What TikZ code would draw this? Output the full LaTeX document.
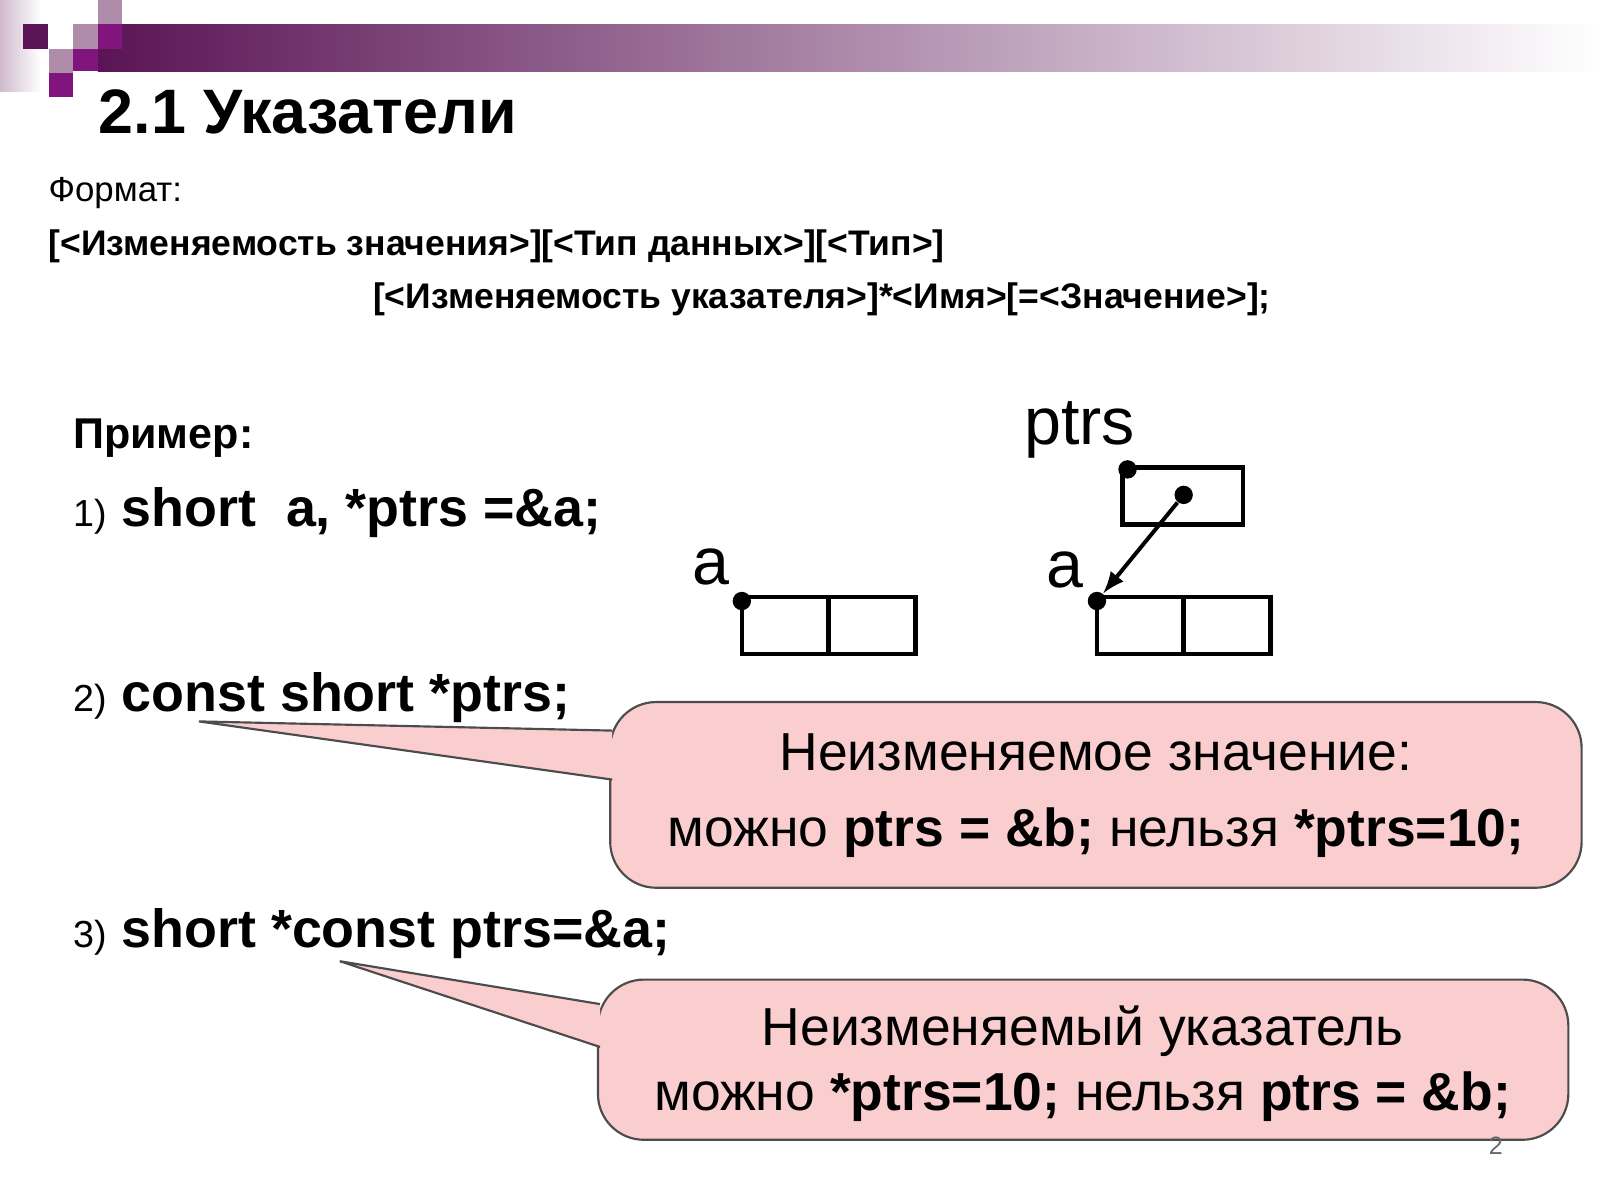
\documentclass[tikz,border=0pt]{standalone}
\usepackage{fontspec}
\setmainfont{Liberation Sans}
\usetikzlibrary{positioning}
\definecolor{plum}{RGB}{90,20,85}
\definecolor{plummid}{RGB}{130,20,125}
\definecolor{plumlight}{RGB}{175,140,170}
\definecolor{calloutfill}{RGB}{250,206,206}
\tikzset{
    sq/.style={fill=#1,draw=none},
    cell/.style={draw,line width=1.3pt,minimum width=0.85cm,minimum height=0.56cm,inner sep=0pt,outer sep=0pt},
    dot/.style={circle,fill,inner sep=0pt,minimum size=0.18cm},
    code/.style={anchor=base west,inner sep=0pt,font=\fontsize{15}{18}\selectfont},
    bubble/.style={fill=calloutfill,draw=black!70,line width=0.6pt,rounded corners=0.45cm},
    btext/.style={anchor=base,inner sep=0pt,font=\fontsize{14.9}{18}\selectfont}
}
\begin{document}
\begin{tikzpicture}[x=0.01cm,y=-0.01cm]
\useasboundingbox (0,0) rectangle (1568,1176);
% header decoration
\shade[left color=plum,right color=white] (96,24) rectangle (1568,70);
\shade[left color=plumlight!60,right color=white] (0,0) rectangle (40,90);
\fill[sq=plum] (23,24) rectangle (47,48);
\fill[sq=plumlight] (48,48) rectangle (72,72);
\fill[sq=plummid] (48,72) rectangle (72,95);
\fill[sq=plumlight] (72,24) rectangle (96,48);
\fill[sq=plummid] (72,48) rectangle (96,70);
\fill[sq=plumlight] (96,0) rectangle (120,24);
\fill[sq=plummid] (96,24) rectangle (120,48);
% title and format
\node[anchor=base west,inner sep=0pt,font=\fontsize{17.5}{20}\selectfont\bfseries] (title) at (96,131) {2.1 Указатели};
\node[anchor=base west,inner sep=0pt,font=\fontsize{9.7}{10}\selectfont] (fmt) at (47,197) {Формат:};
\node[anchor=base west,inner sep=0pt,font=\fontsize{9.9}{10}\selectfont\bfseries] (fmt1) at (47,250) {[<Изменяемость значения>][<Тип данных>][<Тип>]};
\node[anchor=base west,inner sep=0pt,font=\fontsize{9.9}{10}\selectfont\bfseries] (fmt2) at (365,302) {[<Изменяемость указателя>]*<Имя>[=<Значение>];};
% examples
\node[anchor=base west,inner sep=0pt,font=\fontsize{12}{14}\selectfont\bfseries] (ex) at (71,440) {Пример:};
\node[code] (l1) at (71,516) {{\fontsize{10.5}{12}\selectfont 1)} \textbf{short\ \ a, *ptrs =\&a;}};
\node[code] (l2) at (71,697) {{\fontsize{10.5}{12}\selectfont 2)} \textbf{const short *ptrs;}};
\node[code] (l3) at (71,929) {{\fontsize{10.5}{12}\selectfont 3)} \textbf{short *const ptrs=\&a;}};
% memory pictures
\node[cell,anchor=north west] (a1) at (727,585) {};
\node[cell,right=0pt of a1] (a2) {};
\node[cell,anchor=north west] (b1) at (1075,585) {};
\node[cell,right=0pt of b1] (b2) {};
\node[cell,anchor=north west,minimum width=1.18cm] (p) at (1100,458) {};
\node[dot] (da) at (727,589) {};
\node[dot] (db) at (1075,589) {};
\node[dot] (dp) at (1105,460) {};
\node[dot] (dv) at (1160,485) {};
\draw[line width=1.1pt,-{latex}] (dv) -- (db);
\node[anchor=base,inner sep=0pt,font=\fontsize{18.5}{22}\selectfont] (la) at (697,573) {a};
\node[anchor=base,inner sep=0pt,font=\fontsize{18.5}{22}\selectfont] (lb) at (1044,576) {a};
\node[anchor=base,inner sep=0pt,font=\fontsize{18.5}{22}\selectfont] (lp) at (1058,436) {ptrs};
% callout 1
\coordinate (t1) at (195,707);
\draw[bubble] (598,688) rectangle (1550,870);
\fill[calloutfill] (t1) -- (600,716) -- (600,764) -- cycle;
\draw[black!70,line width=0.6pt] (600,716) -- (t1) -- (600,764);
\node[btext] (c1) at (1074,755) {Неизменяемое значение:};
\node[btext] (c1b) at (1074,830) {можно \textbf{ptrs = \&b;} нельзя \textbf{*ptrs=10;}};
% callout 2
\coordinate (t2) at (333,942);
\draw[bubble] (586,960) rectangle (1537,1117);
\fill[calloutfill] (t2) -- (588,984) -- (588,1026) -- cycle;
\draw[black!70,line width=0.6pt] (588,984) -- (t2) -- (588,1026);
\node[btext] (c2) at (1061,1025) {Неизменяемый указатель};
\node[btext] (c2b) at (1061,1088) {можно \textbf{*ptrs=10;} нельзя \textbf{ptrs = \&b;}};
\node[font=\fontsize{7}{8}\selectfont,text=black!60] (pg) at (1466,1123) {2};
\end{tikzpicture}
\end{document}
